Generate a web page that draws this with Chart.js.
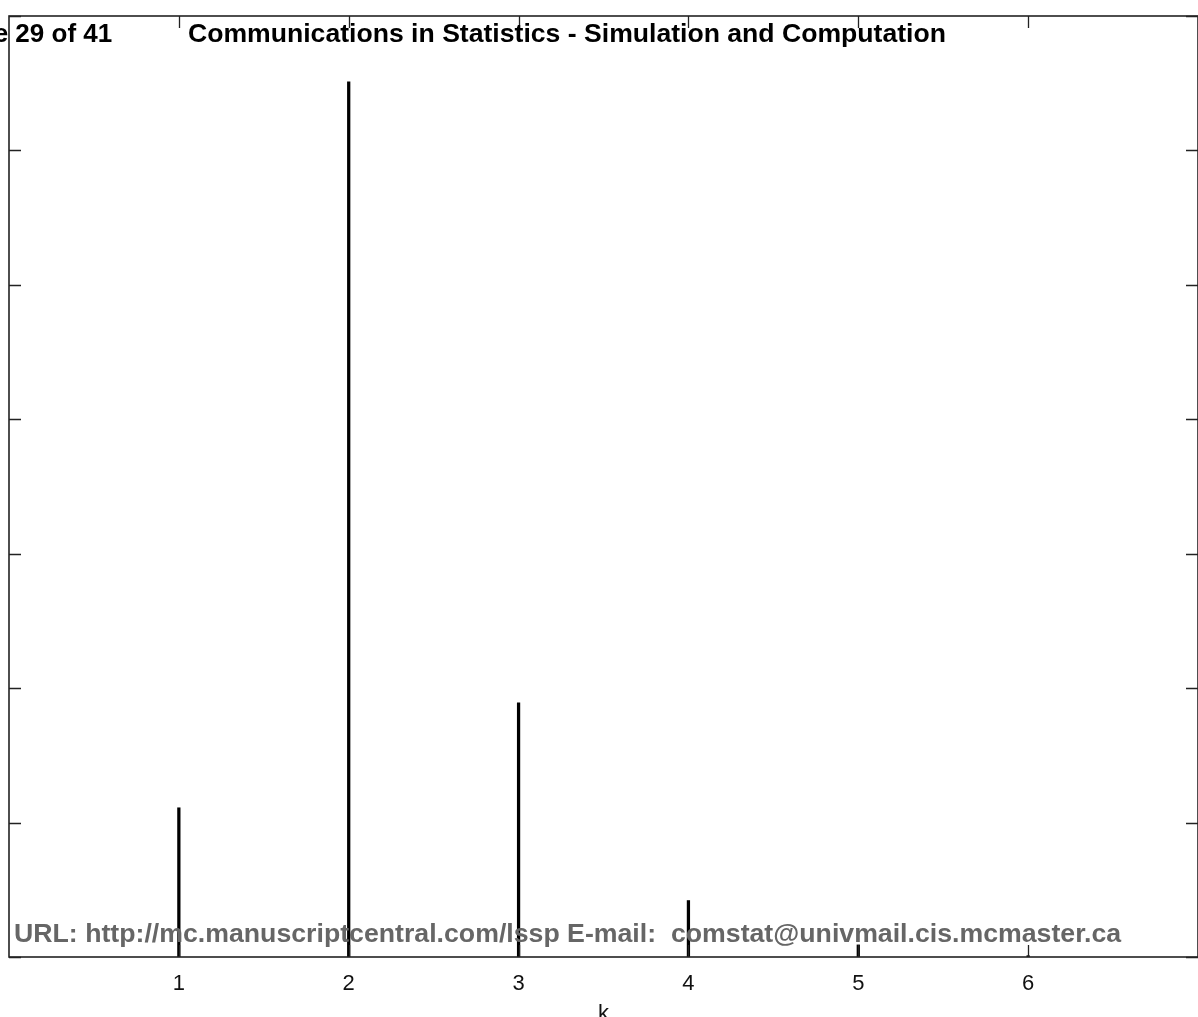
<!DOCTYPE html>
<html>
<head>
<meta charset="utf-8">
<script src="https://cdn.jsdelivr.net/npm/chart.js@4.4.1/dist/chart.umd.min.js"></script>
<style>
    html, body { margin: 0; padding: 0; background: #fff; overflow: hidden; }
    #wrap { position: absolute; left: 0; top: 0; width: 1198px; height: 1032px; }
    .txt { position: absolute; font-family: "Liberation Sans", Arial, sans-serif; font-weight: bold; white-space: nowrap; }
    #page { left: -54px; top: 20px; font-size: 26px; line-height: 26px; color: #000; }
    #journal { left: 188px; top: 20px; font-size: 26.6px; line-height: 26px; color: #000; }
    #footer { left: 14px; top: 920px; font-size: 26.7px; line-height: 26px; color: #666; }
</style>
</head>
<body>
<div id="wrap"><canvas id="chart"></canvas></div>
<div class="txt" id="page">Page 29 of 41</div>
<div class="txt" id="journal">Communications in Statistics - Simulation and Computation</div>
<div class="txt" id="footer">URL: http://mc.manuscriptcentral.com/lssp E-mail:&nbsp; comstat@univmail.cis.mcmaster.ca</div>
<script>
// data
const kValues = [1, 2, 3, 4, 5, 6];
const probabilities = [0.111, 0.651, 0.189, 0.042, 0.009, 0.001];
const xTicks = [1, 2, 3, 4, 5, 6];
const yTicks = [0, 0.1, 0.2, 0.3, 0.4, 0.5, 0.6, 0.7];

const ctx = document.getElementById('chart').getContext('2d');

// box round the plot and tick marks pointing inward, like the old matlab look
const frameTicks = {
    id: 'frameTicks',
    afterDatasetsDraw(chart) {
        const { ctx, chartArea: a, scales: { x, y } } = chart;
        const len = 12;
        ctx.save();
        ctx.strokeStyle = '#222';
        ctx.lineWidth = 1.6;
        ctx.strokeRect(a.left, a.top, a.right - a.left, a.bottom - a.top);
        ctx.lineWidth = 1.3;
        ctx.beginPath();
        xTicks.forEach(v => {
            const px = Math.round(x.getPixelForValue(v)) + 0.5;
            ctx.moveTo(px, a.bottom); ctx.lineTo(px, a.bottom - len);
            ctx.moveTo(px, a.top); ctx.lineTo(px, a.top + len);
        });
        yTicks.forEach(v => {
            const py = Math.round(y.getPixelForValue(v)) + 0.5;
            ctx.moveTo(a.left, py); ctx.lineTo(a.left + len, py);
            ctx.moveTo(a.right, py); ctx.lineTo(a.right - len, py);
        });
        ctx.stroke();
        ctx.restore();
    }
};

new Chart(ctx, {
    type: 'bar',
    data: {
        datasets: [{
            data: kValues.map((k, i) => ({ x: k, y: probabilities[i] })),
            backgroundColor: '#000',
            borderWidth: 0,
            barThickness: 2.6
        }]
    },
    options: {
        responsive: true,
        maintainAspectRatio: false,
        animation: false,
        layout: { padding: { left: 9, top: 16, right: 0, bottom: 0 } },
        plugins: { legend: { display: false }, tooltip: { enabled: false } },
        scales: {
            x: {
                type: 'linear',
                offset: false,
                min: 0,
                max: 7,
                grid: { display: false, drawTicks: false, offset: false },
                border: { display: false },
                afterBuildTicks: scale => { scale.ticks = xTicks.map(v => ({ value: v })); },
                afterFit: scale => { scale.height = 75; },
                ticks: {
                    padding: 14,
                    color: '#111',
                    font: { family: 'Liberation Sans', size: 22 },
                    callback: v => String(v)
                },
                title: {
                    display: true,
                    text: 'k',
                    color: '#111',
                    font: { family: 'Liberation Sans', size: 22 },
                    padding: { top: 0, bottom: 5 }
                }
            },
            y: {
                min: 0,
                max: 0.7,
                afterBuildTicks: scale => { scale.ticks = yTicks.map(v => ({ value: v })); },
                grid: { display: false, drawTicks: false },
                border: { display: false },
                ticks: { display: false },
                afterFit: scale => { scale.width = 0; }
            }
        }
    },
    plugins: [frameTicks]
});
</script>
</body>
</html>
